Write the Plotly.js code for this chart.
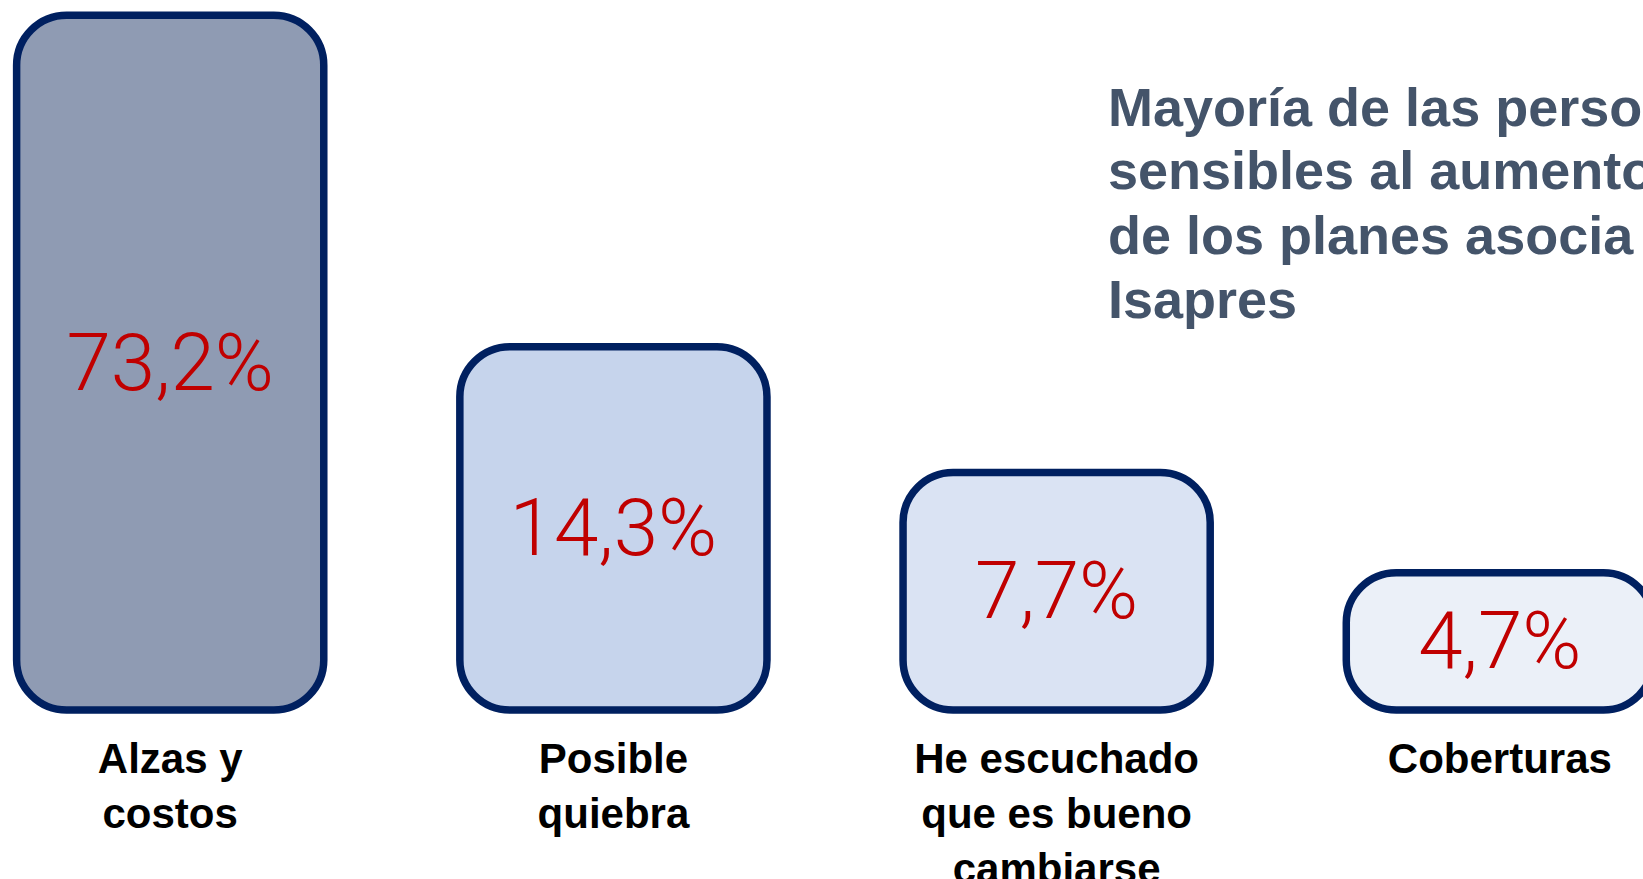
<!DOCTYPE html>
<html>
<head>
<meta charset="utf-8">
<script src="https://cdn.plot.ly/plotly-3.0.1.min.js"></script>
<style>
html, body { margin: 0; padding: 0; background: #ffffff; overflow: hidden; }
#chart { width: 1643px; height: 879px; }
</style>
</head>
<body>
<div id="chart"></div>
<script>
// ---- data ----
const categories = ["Alzas y<br>costos", "Posible<br>quiebra", "He escuchado<br>que es bueno<br>cambiarse", "Coberturas"];
const values = [73.2, 14.3, 7.7, 4.7];
const barColors = ["#8F9BB3", "#C6D4EC", "#DAE3F3", "#EBF0F8"];
const titleLines = ["Mayoría de las perso", "sensibles al aumento", "de los planes asocia", "Isapres"];

// ---- axis configuration ----
const axisFloor = 2.39;           // where the bars start on the log axis
const yLogRange = [0.357, 1.897]; // log10 range of the value axis

const fmt = v => v.toFixed(1).replace(".", ",") + "%";

const bars = {
  type: "bar",
  x: categories,
  base: values.map(() => axisFloor),
  y: values.map(v => v - axisFloor),
  width: 0.693,
  hoverinfo: "skip",
  showlegend: false,
  marker: { color: barColors, line: { color: "#002060", width: 7.5 }, cornerradius: 50 },
  text: values.map(fmt),
  textposition: "inside",
  insidetextanchor: "middle",
  textangle: 0,
  constraintext: "none",
  textfont: { family: "Roboto", weight: 300, size: 80, color: "#C00000" }
};

const W = 1643, H = 879, plotH = 720;
const titleX = 1106, titleY0 = 106.5, titleStep = 64;

const layout = {
  width: W, height: H,
  margin: { l: 0, r: 0, t: 0, b: H - plotH, pad: 0 },
  paper_bgcolor: "#ffffff",
  plot_bgcolor: "#ffffff",
  barmode: "overlay",
  showlegend: false,
  hovermode: false,
  xaxis: {
    type: "category",
    range: [-0.384, 3.323],
    showgrid: false, zeroline: false, showline: false,
    ticks: "outside", ticklen: 2, tickcolor: "rgba(0,0,0,0)",
    tickangle: 0,
    tickfont: { family: "Liberation Sans", weight: "bold", size: 42, color: "#000000" }
  },
  yaxis: { type: "log", range: yLogRange, visible: false, showgrid: false, zeroline: false },
  annotations: titleLines.map((t, i) => ({
    xref: "paper", yref: "paper",
    x: titleX / W, y: 1 - (titleY0 + titleStep * i) / plotH,
    xanchor: "left", yanchor: "middle",
    text: t, showarrow: false, align: "left",
    font: { family: "Liberation Sans", weight: "bold", size: 54, color: "#44546A" }
  }))
};

Plotly.newPlot("chart", [bars], layout, { staticPlot: true, displayModeBar: false });
</script>
</body>
</html>
